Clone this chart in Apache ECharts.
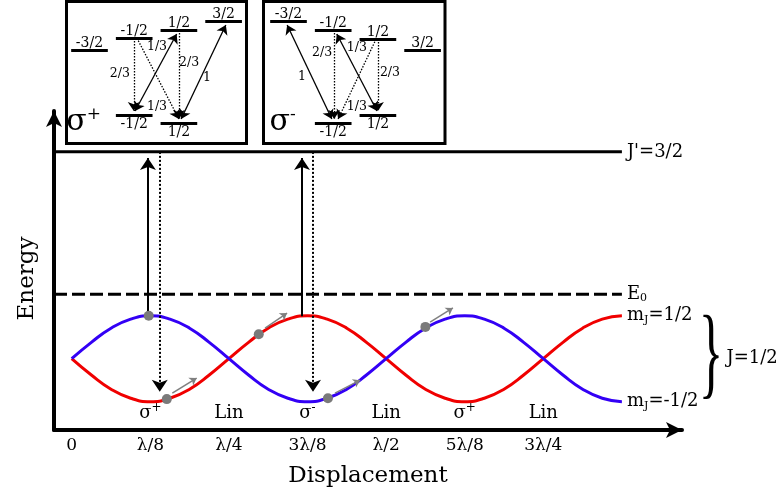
<!DOCTYPE html>
<html><head><meta charset="utf-8">
<script src="https://cdn.jsdelivr.net/npm/echarts@6/dist/echarts.min.js"></script>
<style>html,body{margin:0;padding:0;background:#fff}#c{width:784px;height:497px}</style>
</head><body><div id="c"></div>
<script>
// ================= DATA =================
const tickValues = [0, 1, 2, 3, 4, 5, 6];
const tickLabels = ['0', 'λ/8', 'λ/4', '3λ/8', 'λ/2', '5λ/8', '3λ/4'];
const regionU = [1, 2, 3, 4, 5, 6];
const regionLabels = ['σ+', 'Lin', 'σ-', 'Lin', 'σ+', 'Lin'];
const displacement = [0,0.25,0.5,0.75,1,1.25,1.5,1.75,2,2.25,2.5,2.75,3,3.25,3.5,3.75,4,4.25,4.5,4.75,5,5.25,5.5,5.75,6,6.25,6.5,6.75,7];
const mJminusHalf = [0,0.38,0.71,0.92,1,0.92,0.71,0.38,0,-0.38,-0.71,-0.92,-1,-0.92,-0.71,-0.38,0,0.38,0.71,0.92,1,0.92,0.71,0.38,0,-0.38,-0.71,-0.92,-1];
const mJplusHalf  = [0,-0.38,-0.71,-0.92,-1,-0.92,-0.71,-0.38,0,0.38,0.71,0.92,1,0.92,0.71,0.38,0,-0.38,-0.71,-0.92,-1,-0.92,-0.71,-0.38,0,0.38,0.71,0.92,1];
const levelE0 = 1.5;
const levelJprime = 4.81;
const levelEndU = 7;
const pumpU = [0.97, 2.93];
const pumpFromE = [1.0, 0.99];
const decayU = [1.12, 3.07];
const decayToE = [-0.9, -0.9];
const atomU = [0.98, 1.21, 2.38, 3.26, 4.5];
const atomE = [1.0, -0.94, 0.57, -0.92, 0.74];
const moveFrom = [[1.28, -0.80], [2.46, 0.71], [3.35, -0.80], [4.56, 0.85]];
const moveTo   = [[1.59, -0.45], [2.74, 1.06], [3.67, -0.50], [4.85, 1.18]];

// insets: Zeeman sublevels
const mUpper = [-1.5, -0.5, 0.5, 1.5];
const mUpperText = ['-3/2', '-1/2', '1/2', '3/2'];
const mLower = [-0.5, 0.5];
const mLowerText = ['-1/2', '1/2'];
const plusUpperE = [92, 104, 112, 121];
const plusLowerE = [27, 19];
const minusUpperE = [121, 112, 103, 92];
const minusLowerE = [19, 27];
const plusSolid  = [[[-0.48, 31], [0.45, 108]], [[0.55, 23], [1.55, 117]]];
const plusDotted = [[[-0.51, 104], [-0.51, 31]], [[-0.44, 104], [0.5, 23]], [[0.5, 112], [0.5, 23]]];
const plusText = ['2/3', '1/3', '1/3', '2/3', '1'];
const plusTextPos = [[-0.82, 68], [0.01, 95], [0.01, 35], [0.73, 79], [1.13, 64]];
const minusSolid  = [[[-1.53, 117], [-0.53, 23]], [[-0.42, 108], [0.48, 31]]];
const minusDotted = [[[-0.48, 112], [-0.48, 23]], [[0.46, 103], [-0.39, 23]], [[0.5, 103], [0.5, 31]]];
const minusText = ['1', '2/3', '1/3', '1/3', '2/3'];
const minusTextPos = [[-1.2, 65], [-0.75, 89], [0.03, 94], [0.03, 35], [0.77, 69]];

// ================= LAYOUT =================
const FONT = 'DejaVu Serif';
const X0 = 71.7, XS = 78.6, Y0 = 358.7, YS = 43;
const G = {left: 54, top: 111, right: 682, bottom: 430};
const xMin = (G.left - X0) / XS, xMax = (G.right - X0) / XS;
const yMin = (Y0 - G.bottom) / YS, yMax = (Y0 - G.top) / YS;
const IN1 = {left: 66.5, top: 1.5, width: 180, height: 142, c0: 89.5};
const IN2 = {left: 263.5, top: 1.5, width: 181.5, height: 142, c0: 288.5};
const MS = 44.7;
function insetX(g) { return [-1.5 - (g.c0 - g.left) / MS, -1.5 + (g.left + g.width - g.c0) / MS]; }
const LW = 0.41; // half-length of level bar (m units)
const RED = '#f00000', BLUE = '#3300f5';

const sub = {fontSize: 11, fontFamily: FONT, color: '#000', padding: [8, 0, 0, 0]};
const sup = {fontSize: 12, fontFamily: FONT, color: '#000', padding: [0, 0, 10, 0]};
const txt = (s) => ({fontSize: s, fontFamily: FONT, color: '#000'});
const solidItem = {opacity: 1};

function hiddenAxis(min, max, gi) { return {type: 'value', gridIndex: gi, min: min, max: max, show: false}; }

function insetSeries(ax, upperE, lowerE, solid, dotted, texts, textPos, sign) {
  const base = {xAxisIndex: ax, yAxisIndex: ax};
  const levels = mUpper.map((m, i) => ({coords: [[m - LW, upperE[i]], [m + LW, upperE[i]]]}))
    .concat(mLower.map((m, i) => ({coords: [[m - LW, lowerE[i]], [m + LW, lowerE[i]]]})));
  return [
    Object.assign({type: 'lines', coordinateSystem: 'cartesian2d', data: levels, symbol: 'none',
      lineStyle: {color: '#000', width: 3, opacity: 1}}, base),
    Object.assign({type: 'scatter', symbolSize: 0, itemStyle: solidItem, data: mUpper.map((m, i) => ({name: mUpperText[i], value: [m, upperE[i]]})),
      label: {show: true, position: 'top', distance: 0, opacity: 1, formatter: p => p.name, fontSize: 14, fontFamily: FONT, color: '#000'}}, base),
    Object.assign({type: 'scatter', symbolSize: 0, itemStyle: solidItem, data: mLower.map((m, i) => ({name: mLowerText[i], value: [m, lowerE[i]]})),
      label: {show: true, position: 'bottom', distance: 2, opacity: 1, formatter: p => p.name, fontSize: 14, fontFamily: FONT, color: '#000'}}, base),
    Object.assign({type: 'lines', coordinateSystem: 'cartesian2d', data: solid.map(c => ({coords: c})),
      symbol: ['arrow', 'arrow'], symbolSize: 9, lineStyle: {color: '#000', width: 1.3, opacity: 1}}, base),
    Object.assign({type: 'lines', coordinateSystem: 'cartesian2d', data: dotted.map(c => ({coords: c})),
      symbol: ['none', 'arrow'], symbolSize: 9, lineStyle: {color: '#000', width: 1.3, type: [1.5, 1.5], opacity: 1}}, base),
    Object.assign({type: 'scatter', symbolSize: 0, itemStyle: solidItem, data: texts.map((t, i) => ({name: t, value: textPos[i]})),
      label: {show: true, position: 'inside', opacity: 1, formatter: p => p.name, fontSize: 12.5, fontFamily: FONT, color: '#000'}}, base),
    Object.assign({type: 'scatter', symbolSize: 0, itemStyle: solidItem, data: [{name: sign, value: [-1.63, 20]}],
      label: {show: true, position: 'inside', opacity: 1, formatter: '{s|σ}{p|' + sign + '}',
        rich: {s: txt(30), p: {fontSize: 17, fontFamily: FONT, color: '#000', padding: [0, 0, 15, 0]}}}}, base)
  ];
}

const option = {
  animation: false,
  backgroundColor: '#fff',
  grid: [
    {left: G.left, top: G.top, width: G.right - G.left, height: G.bottom - G.top},
    {left: IN1.left, top: IN1.top, width: IN1.width, height: IN1.height, show: true, borderColor: '#000', borderWidth: 3, backgroundColor: '#fff'},
    {left: IN2.left, top: IN2.top, width: IN2.width, height: IN2.height, show: true, borderColor: '#000', borderWidth: 3, backgroundColor: '#fff'}
  ],
  xAxis: [
    {type: 'value', gridIndex: 0, min: xMin, max: xMax,
      axisLine: {show: true, onZero: false, symbol: ['none', 'arrow'], symbolSize: [12, 16], lineStyle: {color: '#000', width: 4}},
      axisTick: {show: false}, splitLine: {show: false},
      axisLabel: {customValues: tickValues, formatter: v => tickLabels[tickValues.indexOf(Math.round(v))], fontSize: 17, fontFamily: FONT, color: '#000', margin: 7},
      name: 'Displacement', nameLocation: 'middle', nameGap: 35, nameTextStyle: {fontSize: 23, fontFamily: FONT, color: '#000'}},
    hiddenAxis(insetX(IN1)[0], insetX(IN1)[1], 1),
    hiddenAxis(insetX(IN2)[0], insetX(IN2)[1], 2)
  ],
  yAxis: [
    {type: 'value', gridIndex: 0, min: yMin, max: yMax,
      axisLine: {show: true, onZero: false, symbol: ['none', 'arrow'], symbolSize: [12, 16], lineStyle: {color: '#000', width: 4}},
      axisTick: {show: false}, splitLine: {show: false}, axisLabel: {show: false},
      name: 'Energy', nameLocation: 'middle', nameRotate: 90, nameGap: 15,
      nameTextStyle: {fontSize: 23, fontFamily: FONT, color: '#000', padding: [0, 16, 0, 0]}},
    hiddenAxis(-1.5, 140.5, 1),
    hiddenAxis(-1.5, 140.5, 2)
  ],
  series: [
    {type: 'line', name: 'mJ=1/2', data: displacement.map((u, i) => [u, mJplusHalf[i]]), smooth: true, symbol: 'none',
      lineStyle: {color: RED, width: 3}, z: 3,
      endLabel: {show: true, distance: 5, formatter: '{m|m}{j|J}{m|=1/2}', rich: {m: txt(18), j: sub}}},
    {type: 'line', name: 'mJ=-1/2', data: displacement.map((u, i) => [u, mJminusHalf[i]]), smooth: true, symbol: 'none',
      lineStyle: {color: BLUE, width: 3}, z: 3,
      endLabel: {show: true, distance: 5, formatter: '{m|m}{j|J}{m|=-1/2}', rich: {m: txt(18), j: sub}}},
    {type: 'line', name: "J'", data: [[xMin, levelJprime], [levelEndU, levelJprime]], symbol: 'none',
      lineStyle: {color: '#000', width: 3},
      endLabel: {show: true, distance: 5, formatter: "J'=3/2", fontSize: 18, fontFamily: FONT, color: '#000'}},
    {type: 'line', name: 'E0', data: [[xMin, levelE0], [levelEndU, levelE0]], symbol: 'none',
      lineStyle: {color: '#000', width: 3, type: [13, 5]},
      endLabel: {show: true, distance: 5, formatter: '{m|E}{j|0}', rich: {m: txt(18), j: sub}}},
    {type: 'lines', coordinateSystem: 'cartesian2d', data: pumpU.map((u, i) => ({coords: [[u, pumpFromE[i]], [u, levelJprime - 0.14]]})),
      symbol: ['none', 'arrow'], symbolSize: 12, lineStyle: {color: '#000', width: 2, opacity: 1}, z: 4},
    {type: 'lines', coordinateSystem: 'cartesian2d', data: decayU.map((u, i) => ({coords: [[u, levelJprime], [u, decayToE[i] + 0.13]]})),
      symbol: ['none', 'arrow'], symbolSize: 12, lineStyle: {color: '#000', width: 2, type: [2, 2], opacity: 1}, z: 4},
    {type: 'lines', coordinateSystem: 'cartesian2d', data: moveFrom.map((p, i) => ({coords: [p, moveTo[i]]})),
      symbol: ['none', 'arrow'], symbolSize: 7, lineStyle: {color: '#808080', width: 1.5, opacity: 1}, z: 4},
    {type: 'scatter', data: atomU.map((u, i) => [u, atomE[i]]), symbolSize: 10, itemStyle: {color: '#7a7a7a', opacity: 1}, z: 5},
    {type: 'scatter', symbolSize: 0, clip: false, itemStyle: solidItem, data: regionLabels.map((t, i) => ({name: t, value: [regionU[i], -1.27]})),
      label: {show: true, position: 'inside', opacity: 1,
        formatter: p => p.name === 'σ+' ? '{s|σ}{p|+}' : (p.name === 'σ-' ? '{s|σ}{p|-}' : '{s|' + p.name + '}'),
        rich: {s: txt(18), p: sup}}},
    {type: 'scatter', symbolSize: 0, clip: false, itemStyle: solidItem, data: [{name: 'J=1/2', value: [8.33, 0]}],
      label: {show: true, position: 'right', distance: 0, opacity: 1, formatter: 'J=1/2', fontSize: 18, fontFamily: FONT, color: '#000'}}
  ].concat(insetSeries(1, plusUpperE, plusLowerE, plusSolid, plusDotted, plusText, plusTextPos, '+'))
   .concat(insetSeries(2, minusUpperE, minusLowerE, minusSolid, minusDotted, minusText, minusTextPos, '-')),
  graphic: [
    {type: 'text', x: 711, y: 358, scaleX: 0.5, z: 10,
      style: {text: '}', font: '102px "Liberation Serif"', fill: '#000', align: 'center', verticalAlign: 'middle', textAlign: 'center', textVerticalAlign: 'middle'}}
  ]
};
const chart = echarts.init(document.getElementById('c'), null, {renderer: 'canvas'});
chart.setOption(option);
</script></body></html>
